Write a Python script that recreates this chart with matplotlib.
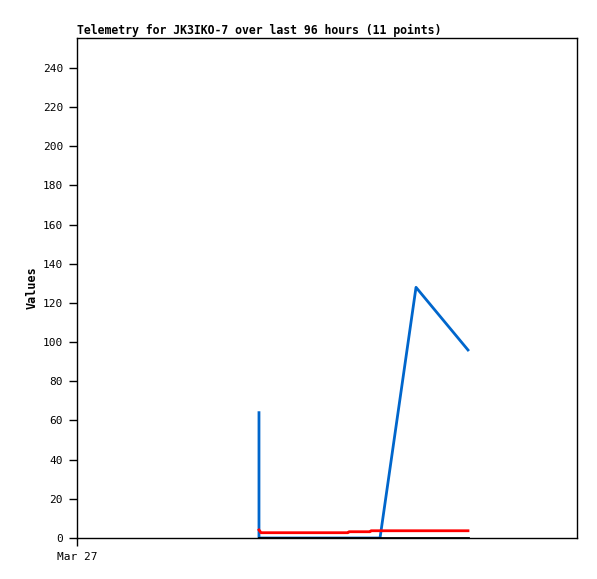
import matplotlib
matplotlib.use("Agg")
import matplotlib.pyplot as plt

# hours since start of window (Mar 27 00:00), 96 hour span
hours = [34.94, 34.94, 35.33, 35.71, 52.03, 52.22, 56.26, 56.45, 58.18, 65.09, 75.07]
blue_vals = [64, 0, 0, 0, 0, 0, 0, 0, 0, 128, 96]
red_vals = [4.1, 4.1, 2.7, 2.7, 2.7, 3.2, 3.2, 3.7, 3.7, 3.7, 3.7]
black_vals = [0, 0, 0, 0, 0, 0, 0, 0, 0, 0, 0]
x_ticks = [0]
x_tick_labels = ["Mar 27"]
y_ticks = list(range(0, 241, 20))

mono = "DejaVu Sans Mono"

fig = plt.figure(figsize=(5.97, 5.79), dpi=100)
ax = fig.add_axes([77 / 597, 41 / 579, 500 / 597, 500 / 579])

ax.plot(hours, blue_vals, color="#0066cc", lw=2)
ax.plot(hours, red_vals, color="#ff0000", lw=2)
ax.plot(hours, black_vals, color="#000000", lw=2)

ax.set_xlim(0, 96)
ax.set_ylim(0, 255.3)
ax.set_yticks(y_ticks)
ax.set_xticks(x_ticks)
ax.set_xticklabels(x_tick_labels)
ax.tick_params(axis="both", direction="out", length=6, width=1,
               labelsize=8, pad=4)
for lbl in ax.get_xticklabels() + ax.get_yticklabels():
    lbl.set_family(mono)

for s in ax.spines.values():
    s.set_linewidth(1)

ax.set_ylabel("Values", family=mono, fontsize=8.5, fontweight="bold", labelpad=3)
ax.set_title("Telemetry for JK3IKO-7 over last 96 hours (11 points)",
             family=mono, fontsize=8.3, fontweight="bold", loc="left", pad=3)

fig.savefig("out.png", dpi=100)
